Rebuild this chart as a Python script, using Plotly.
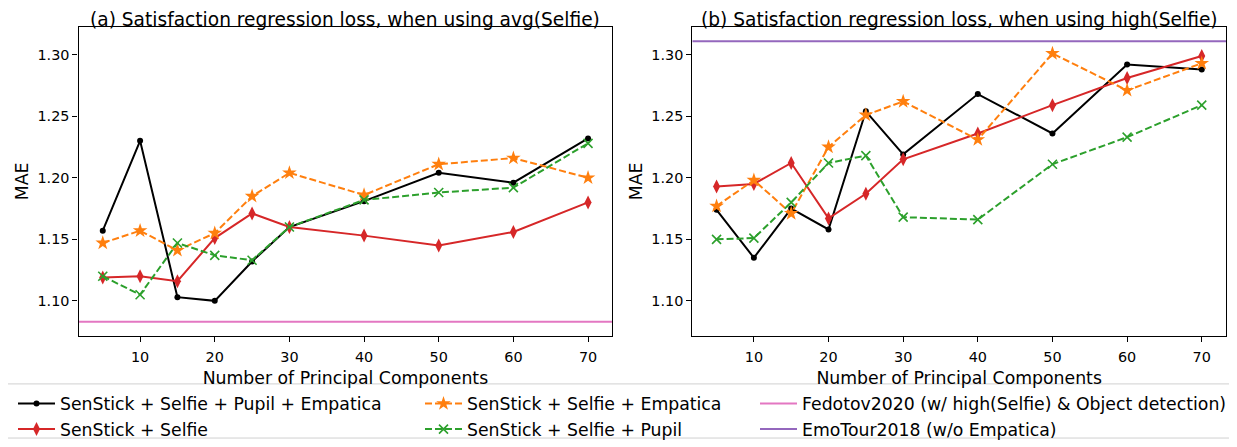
import plotly.graph_objects as go

pcs = [5, 10, 15, 20, 25, 30, 40, 50, 60, 70]

# (a) avg(Selfie)
a_all = [1.157, 1.230, 1.103, 1.100, 1.132, 1.160, 1.181, 1.204, 1.196, 1.232]
a_selfie = [1.119, 1.120, 1.116, 1.151, 1.171, 1.160, 1.153, 1.145, 1.156, 1.180]
a_emp = [1.147, 1.157, 1.141, 1.155, 1.185, 1.204, 1.186, 1.211, 1.216, 1.200]
a_pupil = [1.120, 1.105, 1.147, 1.137, 1.133, 1.160, 1.182, 1.188, 1.192, 1.228]

# (b) high(Selfie)
b_all = [1.174, 1.135, 1.175, 1.158, 1.254, 1.219, 1.268, 1.236, 1.292, 1.288]
b_selfie = [1.193, 1.195, 1.212, 1.167, 1.187, 1.215, 1.236, 1.259, 1.281, 1.299]
b_emp = [1.177, 1.198, 1.171, 1.225, 1.251, 1.262, 1.231, 1.301, 1.271, 1.293]
b_pupil = [1.150, 1.151, 1.180, 1.212, 1.218, 1.168, 1.166, 1.211, 1.233, 1.259]

fedotov = 1.083
emotour = 1.311

names = ["SenStick + Selfie + Pupil + Empatica", "SenStick + Selfie",
         "SenStick + Selfie + Empatica", "SenStick + Selfie + Pupil",
         "Fedotov2020 (w/ high(Selfie) & Object detection)", "EmoTour2018 (w/o Empatica)"]
titles = ["(a) Satisfaction regression loss, when using avg(Selfie)",
          "(b) Satisfaction regression loss, when using high(Selfie)"]
yticks = [1.10, 1.15, 1.20, 1.25, 1.30]
xticks = [10, 20, 30, 40, 50, 60, 70]

X_RANGE = [1.75, 73.25]
Y_RANGE = [1.0717, 1.3225]

# page has an 8px body margin; figure is sized to fit the window
OFF = 8
FW, FH = 1237 - OFF, 447 - OFF

def px(x):
    return (x - OFF) / FW

def py(y):
    return (FH - (y - OFF)) / FH

FONT = "DejaVu Sans"
C_BLACK = "#000000"
C_RED = "#d62728"
C_ORANGE = "#ff7f0e"
C_GREEN = "#2ca02c"
C_PINK = "#e377c2"
C_PURPLE = "#9467bd"
DASH = "7px,3px"

styles = [
    dict(color=C_BLACK, dash="solid", symbol="circle", size=6, legend="legend"),
    dict(color=C_RED, dash="solid", symbol="diamond-tall", size=10, legend="legend"),
    dict(color=C_ORANGE, dash=DASH, symbol="star", size=11, legend="legend2"),
    dict(color=C_GREEN, dash=DASH, symbol="x-thin-open", size=9, legend="legend2"),
]

fig = go.Figure()

for panel, series in enumerate([[a_all, a_selfie, a_emp, a_pupil],
                                [b_all, b_selfie, b_emp, b_pupil]]):
    xa = "x" if panel == 0 else "x2"
    ya = "y" if panel == 0 else "y2"
    for i, vals in enumerate(series):
        st = styles[i]
        marker = dict(symbol=st["symbol"], size=st["size"], color=st["color"],
                      line=dict(width=1.6 if "x-thin" in st["symbol"] else 0,
                                color=st["color"]))
        fig.add_trace(go.Scatter(
            x=pcs, y=vals, mode="lines+markers", name=names[i],
            line=dict(color=st["color"], width=2, dash=st["dash"]),
            marker=marker, xaxis=xa, yaxis=ya,
            showlegend=(panel == 0), legend=st["legend"], legendrank=i,
        ))

fig.add_trace(go.Scatter(
    x=X_RANGE, y=[fedotov, fedotov], mode="lines", name=names[4],
    line=dict(color=C_PINK, width=2), xaxis="x", yaxis="y",
    legend="legend3", legendrank=1))
fig.add_trace(go.Scatter(
    x=X_RANGE, y=[emotour, emotour], mode="lines", name=names[5],
    line=dict(color=C_PURPLE, width=2), xaxis="x2", yaxis="y2",
    legend="legend3", legendrank=2))

ydom = [py(341), py(27.3)]
dom1 = [px(78.5), px(612.3)]
dom2 = [px(692.3), px(1226)]

axis_common = dict(
    showline=True, linecolor="black", linewidth=1.2, mirror=True,
    ticks="outside", ticklen=5, tickwidth=1.2, tickcolor="black",
    showgrid=False, zeroline=False, automargin=False,
    tickfont=dict(family=FONT, size=14.4, color="black"),
)

def xaxis(dom, anchor):
    return dict(axis_common, domain=dom, anchor=anchor, range=X_RANGE,
                tickvals=xticks, ticktext=[str(t) for t in xticks],
                ticklabelstandoff=3,
                title=dict(text="Number of Principal Components",
                           font=dict(family=FONT, size=17.3, color="black"),
                           standoff=7))

def yaxis(anchor):
    return dict(axis_common, domain=ydom, anchor=anchor, range=Y_RANGE,
                tickvals=yticks, ticktext=[f"{t:.2f}" for t in yticks],
                title=dict(text="MAE", font=dict(family=FONT, size=17.3, color="black"),
                           standoff=4))

leg_font = dict(family=FONT, size=17.3, color="black")
leg_common = dict(orientation="v", yanchor="top", xanchor="left",
                  font=leg_font, bgcolor="rgba(0,0,0,0)", borderwidth=0,
                  tracegroupgap=0, itemwidth=37)

TITLE_FONT = dict(family=FONT, size=18.6, color="black")

fig.update_layout(
    width=FW, height=FH,
    margin=dict(l=0, r=0, t=0, b=0),
    paper_bgcolor="white", plot_bgcolor="white",
    font=dict(family=FONT, color="black"),
    xaxis=xaxis(dom1, "y"), yaxis=yaxis("x"),
    xaxis2=xaxis(dom2, "y2"), yaxis2=yaxis("x2"),
    legend=dict(leg_common, x=px(13), y=py(392)),
    legend2=dict(leg_common, x=px(420), y=py(392)),
    legend3=dict(leg_common, x=px(755), y=py(392)),
    showlegend=True,
    annotations=[
        dict(text=titles[0], x=(dom1[0] + dom1[1]) / 2, y=1.0,
             xref="paper", yref="paper", showarrow=False, xanchor="center",
             yanchor="top", borderpad=0, font=TITLE_FONT),
        dict(text=titles[1], x=(dom2[0] + dom2[1]) / 2, y=1.0,
             xref="paper", yref="paper", showarrow=False, xanchor="center",
             yanchor="top", borderpad=0, font=TITLE_FONT),
    ],
    shapes=[
        dict(type="rect", xref="paper", yref="paper",
             x0=px(5.5), x1=px(1231.5), y0=py(445), y1=py(390),
             line=dict(color="#d0d0d0", width=1), fillcolor="rgba(0,0,0,0)"),
    ],
)

fig.write_html("out.html")
